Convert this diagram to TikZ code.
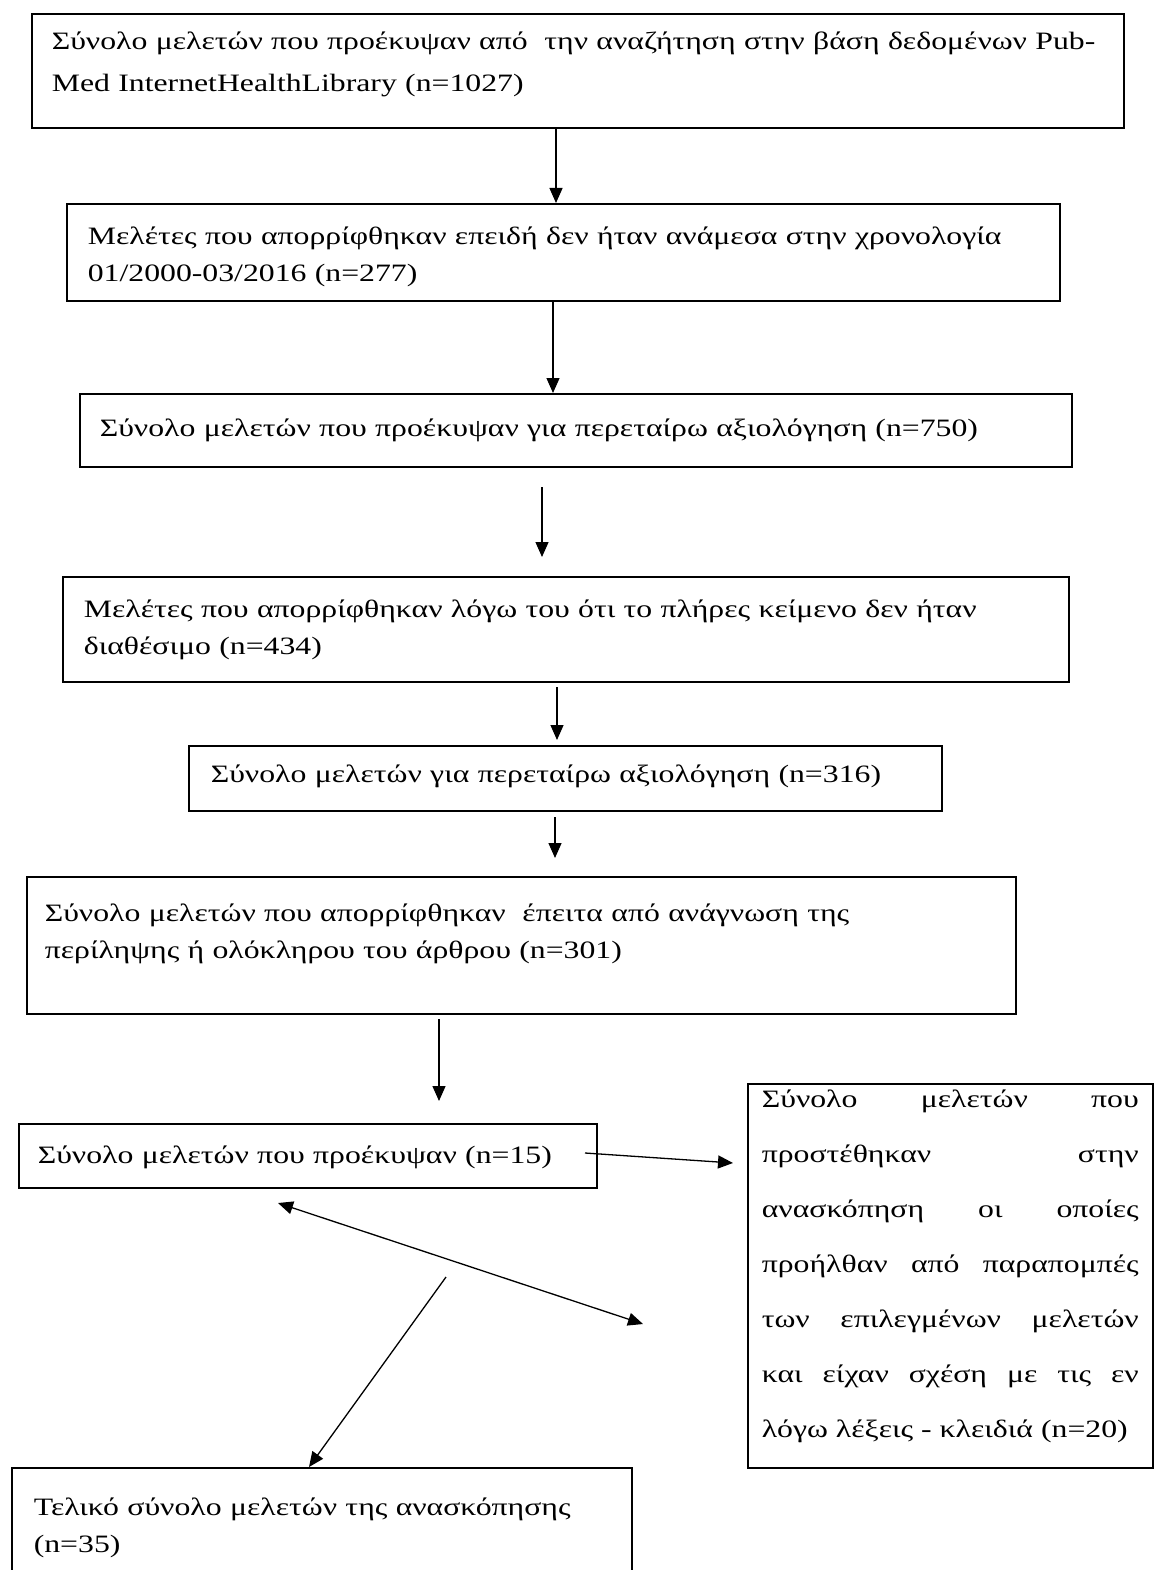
\documentclass[tikz,border=0pt]{standalone}
\usepackage{fontspec}
\setmainfont{Liberation Serif}[FakeStretch=1.27]
\usetikzlibrary{arrows.meta}
\tikzset{
  fbox/.style={draw, line width=1.6pt, anchor=north west, inner ysep=0pt, align=left,
    font=\fontsize{25}{37}\selectfont},
  arr/.style={line width=1.3pt, -{Triangle[length=15pt,width=13pt]}},
  darr/.style={line width=1.3pt, {Triangle[length=15pt,width=13pt]}-{Triangle[length=15pt,width=13pt]}},
}
\begin{document}
\begin{tikzpicture}[x=1pt,y=-1pt]
\useasboundingbox (0,0) rectangle (1153,1570);
% box 1
\node[fbox, inner xsep=20pt, text width=1052pt, text height=36pt, text depth=78pt,
  font=\fontsize{25}{42}\selectfont] (b1) at (31,13)
  {Σύνολο μελετών που προέκυψαν από\ \ την αναζήτηση στην βάση δεδομένων Pub-\\Med InternetHealthLibrary (n=1027)};
% box 2
\node[fbox, inner xsep=21pt, text width=951pt, text height=41pt, text depth=56pt] (b2) at (66,203)
  {Μελέτες που απορρίφθηκαν επειδή δεν ήταν ανάμεσα στην χρονολογία\\01/2000-03/2016 (n=277)};
% box 3
\node[fbox, inner xsep=20pt, text width=952pt, text height=43pt, text depth=30pt] (b3) at (79,393)
  {Σύνολο μελετών που προέκυψαν για περεταίρω αξιολόγηση (n=750)};
% box 4
\node[fbox, inner xsep=21pt, text width=964pt, text height=41pt, text depth=64pt] (b4) at (62,576)
  {Μελέτες που απορρίφθηκαν λόγω του ότι το πλήρες κείμενο δεν ήταν\\διαθέσιμο (n=434)};
% box 5
\node[fbox, inner xsep=22pt, text width=709pt, text height=37pt, text depth=28pt] (b5) at (188,745)
  {Σύνολο μελετών για περεταίρω αξιολόγηση (n=316)};
% box 6
\node[fbox, inner xsep=18pt, text width=953pt, text height=45pt, text depth=92pt] (b6) at (26,876)
  {Σύνολο μελετών που απορρίφθηκαν\ \ έπειτα από ανάγνωση της\\περίληψης ή ολόκληρου του άρθρου (n=301)};
% box 7
\node[fbox, inner xsep=19pt, text width=540pt, text height=40pt, text depth=24pt] (b7) at (18,1123)
  {Σύνολο μελετών που προέκυψαν (n=15)};
% box 8
\node[fbox, inner xsep=14pt, text width=377pt, text height=24pt, text depth=360pt, align=justify,
  font=\fontsize{25}{55}\selectfont] (b8) at (747,1083)
  {\leftskip=5pt\relax Σύνολο μελετών που\linebreak προστέθηκαν στην\linebreak ανασκόπηση οι οποίες\linebreak προήλθαν από παραπομπές\linebreak των επιλεγμένων μελετών\linebreak και είχαν σχέση με τις εν\linebreak λόγω λέξεις - κλειδιά (n=20)};
% box 9
\node[fbox, inner xsep=22pt, text width=576pt, text height=48pt, text depth=62pt] (b9) at (11,1467)
  {Τελικό σύνολο μελετών της ανασκόπησης\\(n=35)};
% connectors
\coordinate (x1) at (556,0);
\coordinate (x2) at (553,0);
\coordinate (x9) at (309,0);
\draw[arr] (b1.south -| x1) -- (b2.north -| x1);
\draw[arr] (b2.south -| x2) -- (b3.north -| x2);
\coordinate (a3s) at (542,487);
\coordinate (a3e) at (542,557);
\draw[arr] (a3s) -- (a3e);
\coordinate (a4s) at (557,687);
\coordinate (a4e) at (557,740);
\draw[arr] (a4s) -- (a4e);
\coordinate (a5s) at (555,817);
\coordinate (a5e) at (555,858);
\draw[arr] (a5s) -- (a5e);
\coordinate (a6s) at (439,1019);
\coordinate (a6e) at (439,1101);
\draw[arr] (a6s) -- (a6e);
\coordinate (a7s) at (585,1153);
\coordinate (a7e) at (733,1163);
\draw[arr] (a7s) -- (a7e);
\coordinate (a8s) at (278,1203);
\coordinate (a8e) at (643,1324);
\draw[darr] (a8s) -- (a8e);
\coordinate (a9s) at (446,1277);
\draw[arr] (a9s) -- (b9.north -| x9);
\end{tikzpicture}
\end{document}
